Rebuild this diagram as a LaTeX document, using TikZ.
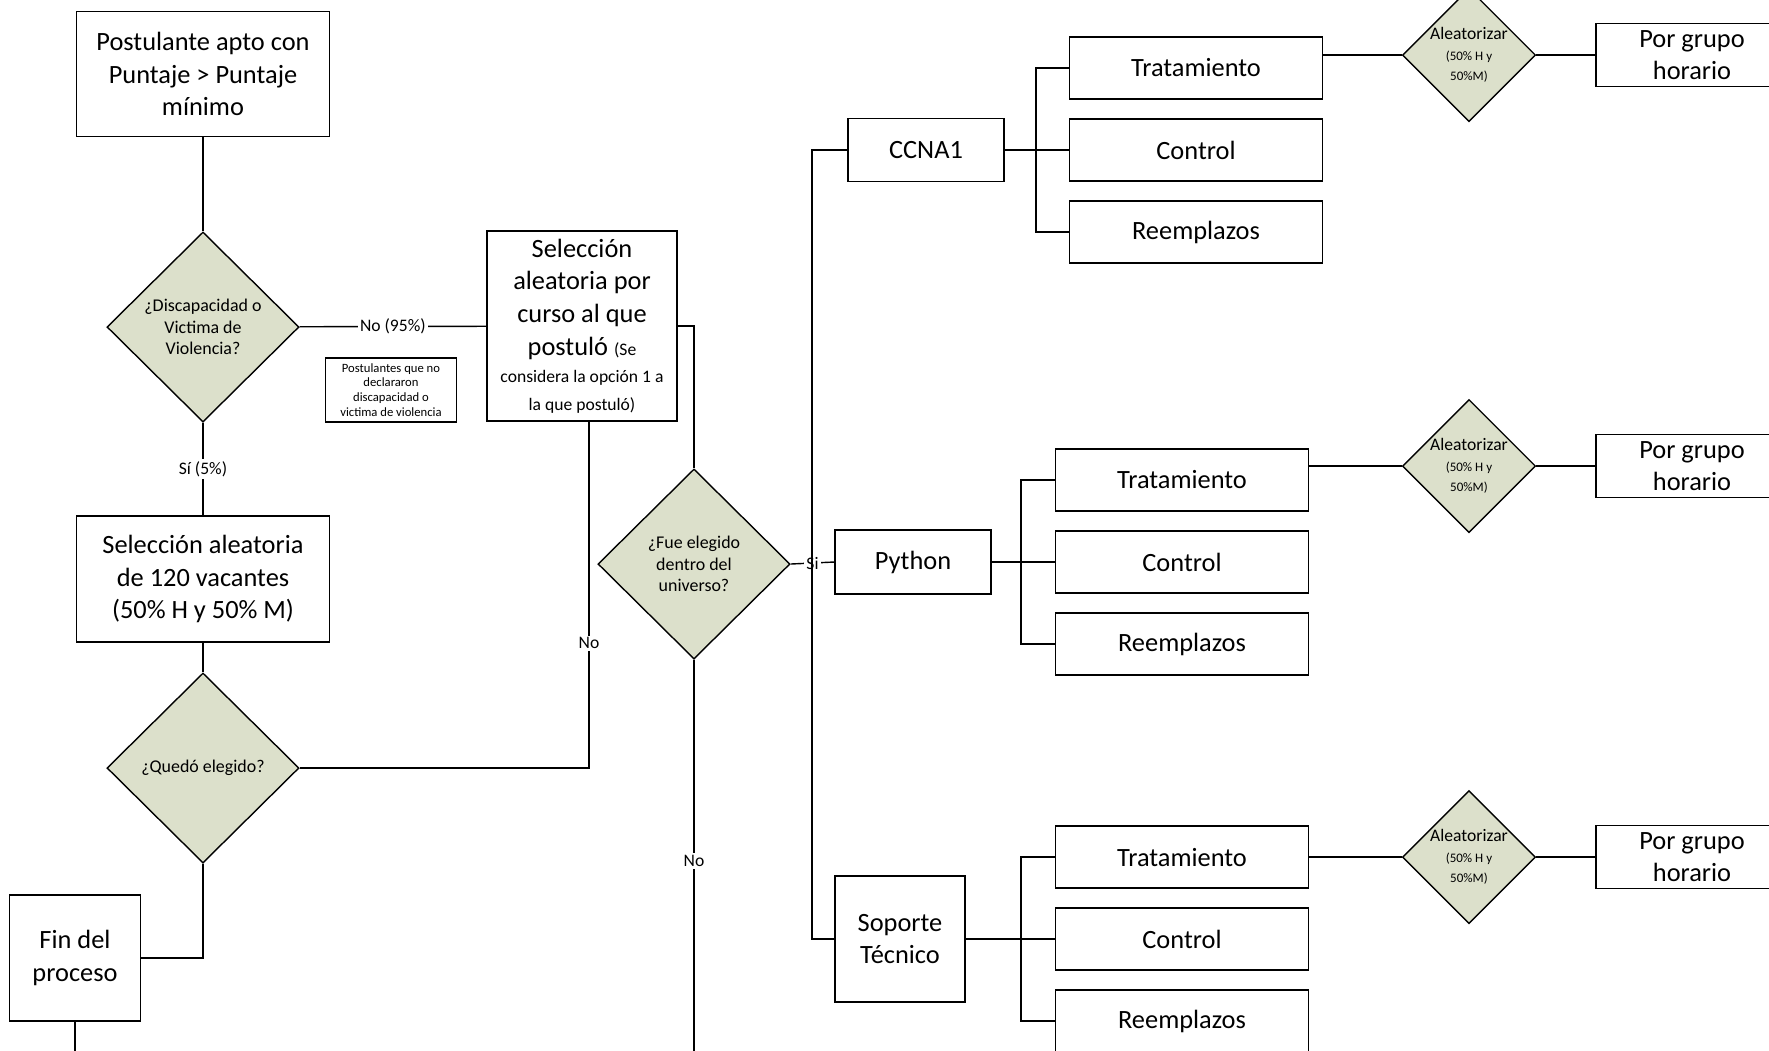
\documentclass[tikz,border=0pt]{standalone}
\usepackage{fontspec}
\setmainfont{Carlito}
\usepackage{tikz}
\usetikzlibrary{shapes.geometric}
\definecolor{sage}{RGB}{220,224,203}
\tikzset{
  proc/.style={draw,align=center,inner sep=1pt,font=\fontsize{7.5}{9.3}\selectfont},
  decide/.style={draw,fill=sage,shape=diamond,inner sep=0pt,align=center,
    minimum width=1.92cm,minimum height=1.90cm,font=\fontsize{5.1}{6.2}\selectfont},
  randbox/.style={decide,minimum width=1.32cm,minimum height=1.26cm,font=\fontsize{5}{5.9}\selectfont},
  notebox/.style={draw,align=center,inner sep=0.5pt,minimum width=1.31cm,minimum height=0.64cm,
    font=\fontsize{3.6}{4.2}\selectfont},
  tag/.style={fill=white,inner sep=0.6pt,font=\fontsize{5}{6}\selectfont}
}

\begin{document}
\begin{tikzpicture}[x=0.01cm,y=-0.01cm,thin]
            \clip (0,0) rectangle (1769,1050);
            \node[proc,minimum width=2.53cm,minimum height=1.25cm] (apto) at (203,74) {Postulante apto con\\Puntaje > Puntaje\\mínimo};
            \node[decide] (disc) at (203,327) {¿Discapacidad o\\Victima de\\Violencia?};
            \node[proc,minimum width=2.53cm,minimum height=1.26cm] (vac) at (203,579) {Selección aleatoria\\de 120 vacantes\\(50\% H y 50\% M)};
            \node[decide] (qued) at (203,768) {¿Quedó elegido?};
            \node[proc,minimum width=1.31cm,minimum height=1.26cm] (fin) at (75,958) {Fin del\\proceso};
            \node[proc,minimum width=1.90cm,minimum height=1.90cm] (sel) at (582,326) {Selección\\aleatoria por\\curso al que\\postuló {\fontsize{5}{6}\selectfont(Se}\\[-1.5pt]
            {\fontsize{5}{6}\selectfont considera la opción 1 a}\\[-1.5pt]{\fontsize{5}{6}\selectfont la que postuló)}};
            \node[notebox] (nota) at (391,390) {Postulantes que no\\declararon\\discapacidad o\\victima de violencia};
            \node[decide] (fue) at (694,564) {¿Fue elegido\\dentro del\\universo?};
            \node[proc,minimum width=1.56cm,minimum height=0.63cm] (ccna) at (926,150) {CCNA1};
            \node[proc,minimum width=1.56cm,minimum height=0.64cm] (py) at (913,562) {Python};
            \node[proc,minimum width=1.30cm,minimum height=1.26cm] (sop) at (900,939) {Soporte\\Técnico};
            \coordinate (finout) at (75,1070);
            \coordinate (fueout) at (694,1070);
            \coordinate (spine) at (812,562);
            \draw (apto) -- (disc);
            \draw (disc) -- node[tag]{No (95\%)} (sel);
            \draw (disc) -- node[tag]{Sí (5\%)} (vac);
            \draw (vac) -- (qued);
            \draw (qued) |- (fin);
            \draw (fin) -- (finout);
            \draw (sel.east) -| (fue.north);
            \draw ([xshift=0.07cm]sel.south) |- node[tag,pos=0.32]{No} (qued.east);
            \draw (fue) -- node[tag,pos=0.49]{No} (fueout);
            \draw (fue.east) -- node[tag]{Si} (py.west);
            \draw (ccna.west) -| (spine |- sop.west) -- (sop.west);
            \foreach \g/\p/\bx/\sx/\cy/\dy in {c/ccna/1196/1036/150/55, p/py/1182/1021/562/466, s/sop/1182/1021/939/857}{
              \node[proc,minimum width=2.53cm,minimum height=0.62cm] (T\g) at (\bx,\cy-82) {Tratamiento};
              \node[proc,minimum width=2.53cm,minimum height=0.62cm] (C\g) at (\bx,\cy) {Control};
              \node[proc,minimum width=2.53cm,minimum height=0.62cm] (R\g) at (\bx,\cy+82) {Reemplazos};
              \coordinate (S\g) at (\sx,\cy);
              \draw (\p.east) -- (C\g.west);
              \draw (T\g.west) -| (S\g) |- (R\g.west);
              \node[randbox] (A\g) at (1469,\dy) {Aleatorizar\\{\fontsize{3.7}{4.3}\selectfont (50\% H y}\\{\fontsize{3.7}{4.3}\selectfont 50\%M)}};
              \node[proc,minimum width=1.92cm,minimum height=0.63cm] (G\g) at (1692,\dy) {Por grupo\\horario};
              \draw (T\g.east |- A\g.west) -- (A\g.west);
              \draw (A\g) -- (G\g);
            }
        \end{tikzpicture}
\end{document}
